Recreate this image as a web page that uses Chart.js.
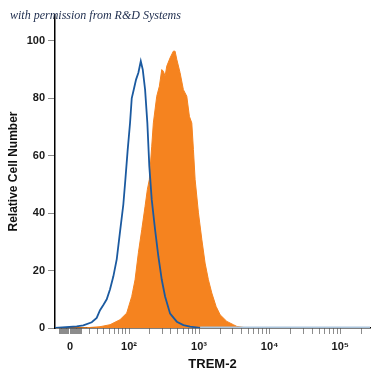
<!DOCTYPE html>
<html lang="en">
<head>
<meta charset="UTF-8">
<title>TREM-2 histogram</title>
<style>
    body {
        margin: 0;
        background: #fff;
    }
    .wrap {
        position: relative;
        width: 375px;
        height: 375px;
    }
    .note {
        position: absolute;
        left: 10px;
        top: 8px;
        font: italic 12px 'Liberation Serif', 'DejaVu Serif', serif;
        color: #1c2b4c;
        white-space: nowrap;
    }
</style>
</head>
<body>

<div class="wrap">
    <canvas id="histChart" width="375" height="375"></canvas>
    <div class="note">with permission from R&amp;D Systems</div>
</div>

<script src="https://cdn.jsdelivr.net/npm/chart.js"></script>
<script>
    // x values are channel positions in decades of the logicle display (10^2 -> 2, 10^3 -> 3 ...)
    const isotypeX = [0.962, 1.269, 1.363, 1.482, 1.552, 1.599, 1.646, 1.694, 1.741, 1.788, 1.836, 1.882,
        1.929, 1.958, 1.989, 2.024, 2.048, 2.081, 2.109, 2.142, 2.176, 2.204, 2.237, 2.269, 2.297,
        2.331, 2.378, 2.425, 2.473, 2.52, 2.591, 2.686, 2.779, 2.874, 3.016, 5.42];
    const isotypeY = [0, 0.6, 0.9, 2.0, 3.5, 6.2, 8.0, 10.0, 13.5, 18.0, 24.0, 33.5,
        43.0, 51.7, 61.5, 71.4, 80.0, 83.5, 86.5, 88.9, 92.9, 90.0, 83.0, 71.4, 56.3,
        44.7, 34.3, 24.9, 16.8, 11.0, 5.0, 2.2, 1.0, 0.5, 0, 0];

    const tremX = [0.962, 1.411, 1.599, 1.741, 1.882, 1.977, 2.048, 2.095, 2.142, 2.19, 2.237, 2.269,
        2.297, 2.331, 2.354, 2.402, 2.439, 2.473, 2.496, 2.52, 2.544, 2.591, 2.637, 2.661, 2.686,
        2.732, 2.779, 2.827, 2.864, 2.898, 2.921, 2.945, 2.992, 3.04, 3.086, 3.133, 3.181, 3.242,
        3.299, 3.394, 3.487, 3.535, 3.653, 5.42];
    const tremY = [0, 0.1, 0.45, 1.15, 2.9, 5.2, 11.0, 16.8, 26.2, 34.3, 42.4, 48.2,
        51.7, 63.3, 71.4, 80.7, 84.2, 90.0, 89.4, 87.7, 91.2, 94.1, 96.4, 96.4, 93.5,
        88.9, 83.0, 80.7, 73.7, 71.4, 62.1, 51.7, 40.1, 30.8, 22.6, 16.8, 12.2, 7.5,
        4.6, 2.3, 1.15, 0.56, 0.1, 0];

    // axis ticks, in fluorescence intensity
    const majorTickValues = [0, 100, 1000, 10000, 100000];
    const majorTickLabels = ['0', '10²', '10³', '10⁴', '10⁵'];
    const minorTickValues = [20, 30, 40, 50, 60, 70, 80, 90,
        200, 300, 400, 500, 600, 700, 800, 900,
        2000, 3000, 4000, 5000, 6000, 7000, 8000, 9000,
        20000, 30000, 40000, 50000, 60000, 70000, 80000, 90000, 200000];
    const zeroBlockValues = [-10, -7.5, -5, -2.5, 2.5, 5, 7.5, 10];

    // logicle-like transform: linear around 0, log10 for large values
    const W = 15;
    function logicle(v) {
        return Math.log10(W) + Math.asinh(v / (2 * W)) / Math.LN10;
    }

    const toPoints = (xs, ys) => xs.map((x, i) => ({ x: x, y: ys[i] }));

    const xTicks = [];
    zeroBlockValues.forEach(v => xTicks.push({ value: logicle(v), kind: 'zero', text: '' }));
    minorTickValues.forEach(v => xTicks.push({ value: logicle(v), kind: 'minor', text: '' }));
    majorTickValues.forEach((v, i) => xTicks.push({ value: logicle(v), kind: 'major', text: majorTickLabels[i] }));
    xTicks.sort((a, b) => a.value - b.value);

    const blue = '#1b5aa0';
    const paleBlue = '#a9c3db';
    const orange = '#f5831f';
    const sans = "'Liberation Sans', Arial, sans-serif";
    const tickFont = { family: sans, size: 11, weight: 'bold' };

    const ctx = document.getElementById('histChart').getContext('2d');
    const histChart = new Chart(ctx, {
        type: 'line',
        data: {
            datasets: [{
                label: 'Isotype control',
                data: toPoints(isotypeX, isotypeY),
                borderColor: blue,
                borderWidth: 1.8,
                pointRadius: 0,
                fill: false,
                tension: 0,
                segment: {
                    borderColor: c => (c.p0.parsed.y === 0 && c.p1.parsed.y === 0) ? paleBlue : undefined,
                    borderWidth: c => (c.p0.parsed.y === 0 && c.p1.parsed.y === 0) ? 3 : undefined
                }
            }, {
                label: 'TREM-2',
                data: toPoints(tremX, tremY),
                borderColor: orange,
                backgroundColor: orange,
                borderWidth: 1,
                pointRadius: 0,
                fill: 'origin',
                tension: 0
            }]
        },
        options: {
            responsive: false,
            animation: false,
            layout: {
                padding: { top: 15, right: 5, left: 0, bottom: 0 }
            },
            plugins: {
                legend: { display: false },
                tooltip: { enabled: false }
            },
            scales: {
                x: {
                    type: 'linear',
                    min: 0.962,
                    max: 5.42,
                    z: 1,
                    afterFit: scale => { scale.height = 47; },
                    afterBuildTicks: scale => {
                        scale.ticks = xTicks.map(t => ({ value: t.value, kind: t.kind, text: t.text }));
                    },
                    border: { color: '#000', width: 1.5 },
                    grid: {
                        drawOnChartArea: false,
                        drawTicks: true,
                        tickLength: 6,
                        tickColor: '#8c8c8c',
                        tickWidth: c => (c.tick && c.tick.kind === 'zero') ? 3 : 1
                    },
                    ticks: {
                        autoSkip: false,
                        maxRotation: 0,
                        padding: 6,
                        color: '#1a1a1a',
                        font: tickFont,
                        callback: (v, i, ticks) => ticks[i].text
                    },
                    title: {
                        display: true,
                        text: 'TREM-2',
                        color: '#111',
                        font: { family: sans, size: 13, weight: 'bold' },
                        padding: { top: 0, bottom: 3 }
                    }
                },
                y: {
                    min: 0,
                    max: 109,
                    afterFit: scale => { scale.width = 55; },
                    border: { color: '#000', width: 1.5 },
                    grid: {
                        drawOnChartArea: false,
                        drawTicks: true,
                        tickLength: 7,
                        tickColor: '#8c8c8c'
                    },
                    ticks: {
                        stepSize: 20,
                        includeBounds: false,
                        padding: 3,
                        color: '#1a1a1a',
                        font: tickFont
                    },
                    title: {
                        display: true,
                        text: 'Relative Cell Number',
                        color: '#111',
                        font: { family: sans, size: 12, weight: 'bold' },
                        padding: { top: 6, bottom: 0 }
                    }
                }
            }
        }
    });
</script>

</body>
</html>
